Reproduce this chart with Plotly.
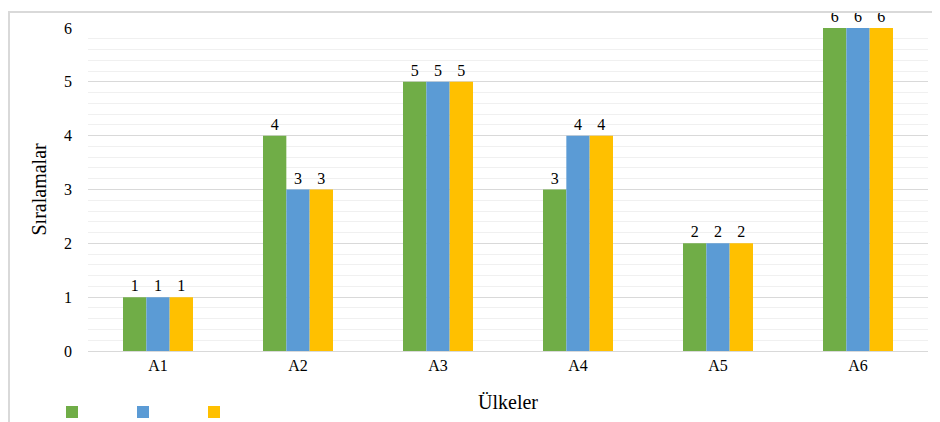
import plotly.graph_objects as go

categories = ["A1", "A2", "A3", "A4", "A5", "A6"]
series1 = [1, 4, 5, 3, 2, 6]
series2 = [1, 3, 5, 4, 2, 6]
series3 = [1, 3, 5, 4, 2, 6]
colors = ["#70AD47", "#5B9BD5", "#FFC000"]
names = [" ", " ", " "]

font = "Liberation Serif, Times New Roman, serif"
W, H = 932, 414
L, T, R, B = 80, 20, 12, 71
PW, PH = W - L - R, H - T - B

fig = go.Figure()
for vals, col, nm in zip([series1, series2, series3], colors, names):
    fig.add_trace(go.Bar(
        x=categories, y=vals, name=nm, marker=dict(color=col, line=dict(width=0)),
        text=[str(v) for v in vals], textposition="outside",
        textfont=dict(family=font, size=16, color="#000000"),
        cliponaxis=False,
    ))

fig.update_layout(
    width=W, height=H,
    margin=dict(l=L, r=R, t=T, b=B, autoexpand=False),
    paper_bgcolor="white", plot_bgcolor="white",
    barmode="group", bargap=0.5, bargroupgap=0,
    font=dict(family=font, size=16, color="#000000"),
    showlegend=True,
    legend=dict(orientation="h", xref="container", yref="container",
                x=44/W, xanchor="left", y=1-404/H, yanchor="middle",
                entrywidth=26, entrywidthmode="pixels", font=dict(size=12),
                itemwidth=30, bgcolor="rgba(0,0,0,0)"),
    xaxis=dict(showgrid=False, showline=True, linecolor="#d9d9d9", linewidth=1,
               ticks="", tickfont=dict(family=font, size=16), automargin=False),
    yaxis=dict(range=[0, 6], dtick=1, showgrid=True, gridcolor="#d9d9d9", gridwidth=1,
               zeroline=False, showline=False, ticks="", ticklen=0, automargin=False,
               tickfont=dict(family=font, size=16), ticklabelstandoff=15,
               minor=dict(dtick=0.2, showgrid=True, gridcolor="#f0f0f0", gridwidth=1)),
    annotations=[
        dict(text="Sıralamalar", textangle=-90, xref="paper", yref="paper",
             x=(30 - L)/PW, y=0.5, xanchor="center", yanchor="middle", showarrow=False,
             font=dict(family=font, size=20, color="#000000")),
        dict(text="Ülkeler", xref="paper", yref="paper",
             x=0.5, y=(H - B - 394)/PH, xanchor="center", yanchor="middle", showarrow=False,
             font=dict(family=font, size=20, color="#000000")),
    ],
    shapes=[
        dict(type="rect", xref="paper", yref="paper",
             x0=(1-L)/PW, x1=(W+20-L)/PW, y0=(H-B-4)/PH, y1=-(B+20)/PH,
             line=dict(color="#d9d9d9", width=2), fillcolor="rgba(0,0,0,0)"),
    ],
)

fig.write_html("out.html")
